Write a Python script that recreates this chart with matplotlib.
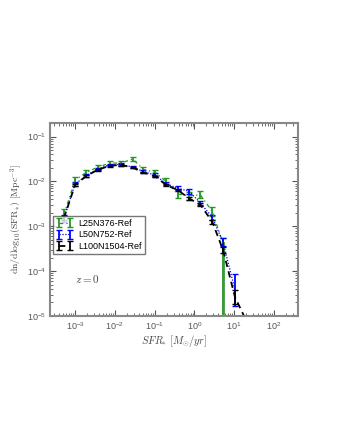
import numpy as np
import matplotlib
matplotlib.use("Agg")
import matplotlib.pyplot as plt

plt.rcParams["mathtext.fontset"] = "cm"
plt.rcParams["font.family"] = ["Liberation Sans", "DejaVu Sans"]

# log10 SFR bin centres and log10 number densities
logsfr = [-3.28, -3.0, -2.72, -2.43, -2.13, -1.85, -1.55, -1.28, -0.98,
          -0.71, -0.42, -0.13, 0.15, 0.45, 0.72, 1.02, 1.30]

l25_phi = [-2.74, -1.97, -1.80, -1.68, -1.59, -1.59, -1.50, -1.73, -1.80,
           -2.00, -2.28, -2.32, -2.30, -2.67, -3.38]
l25_err = [0.12, 0.06, 0.05, 0.05, 0.04, 0.05, 0.05, 0.06, 0.06,
           0.07, 0.09, 0.09, 0.08, 0.10, 0.12]

l50_phi = [-2.82, -2.06, -1.87, -1.72, -1.63, -1.62, -1.68, -1.78, -1.86,
           -2.05, -2.15, -2.22, -2.48, -2.80, -3.36, -4.42]
l50_err = [0.08, 0.04, 0.03, 0.03, 0.03, 0.03, 0.03, 0.03, 0.04,
           0.04, 0.05, 0.05, 0.05, 0.06, 0.09, 0.35]

l100_phi = [-2.82, -2.08, -1.88, -1.74, -1.65, -1.63, -1.69, -1.80, -1.89,
            -2.08, -2.19, -2.38, -2.52, -2.90, -3.53, -4.58, -5.10]
l100_err = [0.04, 0.02, 0.02, 0.02, 0.02, 0.02, 0.02, 0.02, 0.02,
            0.02, 0.03, 0.03, 0.03, 0.04, 0.06, 0.15, 0.0]

xticks = [1e-3, 1e-2, 1e-1, 1e0, 1e1, 1e2]
yticks = [1e-5, 1e-4, 1e-3, 1e-2, 1e-1]


def errs(phi, err, lower_to_zero=()):
    phi = np.array(phi)
    err = np.array(err)
    y = 10 ** phi
    lo = y - 10 ** (phi - err)
    hi = 10 ** (phi + err) - y
    for i in lower_to_zero:
        lo[i] = y[i] * 0.9999999
    return y, [lo, hi]


fig = plt.figure(figsize=(3.4, 4.4), dpi=100)
ax = fig.add_axes([0.147, 0.282, 0.729, 0.438])

x = 10 ** np.array(logsfr)

y, e = errs(l25_phi, l25_err, lower_to_zero=[14])
c = ax.errorbar(x[:len(y)], y, yerr=e, color="#1f9a1f", lw=0.9,
                elinewidth=1.3, capsize=2, label="L25N376-Ref")
c.lines[0].set_dashes([3, 2.5, 1, 2.5])
# last bin: error reaches zero
ax.plot([x[14], x[14]], [1e-7, y[14]], color="#3a9a3a", lw=2)

y, e = errs(l50_phi, l50_err)
c = ax.errorbar(x[:len(y)], y, yerr=e, color="blue", lw=0.9,
                elinewidth=1.3, capsize=2, label="L50N752-Ref")
c.lines[0].set_dashes([1, 1.3])

y, e = errs(l100_phi, l100_err)
c = ax.errorbar(x[:len(y)], y, yerr=e, color="black", lw=1.3,
                elinewidth=1.3, capsize=2, label="L100N1504-Ref")
c.lines[0].set_dashes([3.5, 2.5])

ax.set_xscale("log")
ax.set_yscale("log")
ax.set_xticks(xticks)
ax.set_yticks(yticks)
ax.set_xlim(10 ** -3.63, 10 ** 2.6)
ax.set_ylim(1e-5, 10 ** -0.7)

ax.tick_params(which="both", direction="in", top=True, right=True,
               labelsize=6.5, labelcolor="#555555", color="#555555", pad=3)
ax.tick_params(which="major", length=4)
ax.tick_params(which="minor", length=2)
for s in ax.spines.values():
    s.set_color("#888888")
    s.set_linewidth(1.5)

ax.set_xlabel(r"$SFR_{*}\ [M_{\odot}/yr]$", fontsize=7.5, color="#444444",
              labelpad=1)
ax.set_ylabel(r"$\rm dn/dlog_{10}(SFR_{*})\ [Mpc^{-3}]$", fontsize=7,
              color="#444444", labelpad=2)
ax.text(0.10, 0.17, r"$z=0$", transform=ax.transAxes, fontsize=8,
        color="#444444")

ax.legend(loc="lower left", bbox_to_anchor=(0.012, 0.32), numpoints=2,
          fontsize=6.5, frameon=True, fancybox=False, edgecolor="#555555",
          borderaxespad=0, handlelength=1.8, handletextpad=0.7,
          labelspacing=0.3, borderpad=0.35)

fig.savefig("out.png", dpi=100)
